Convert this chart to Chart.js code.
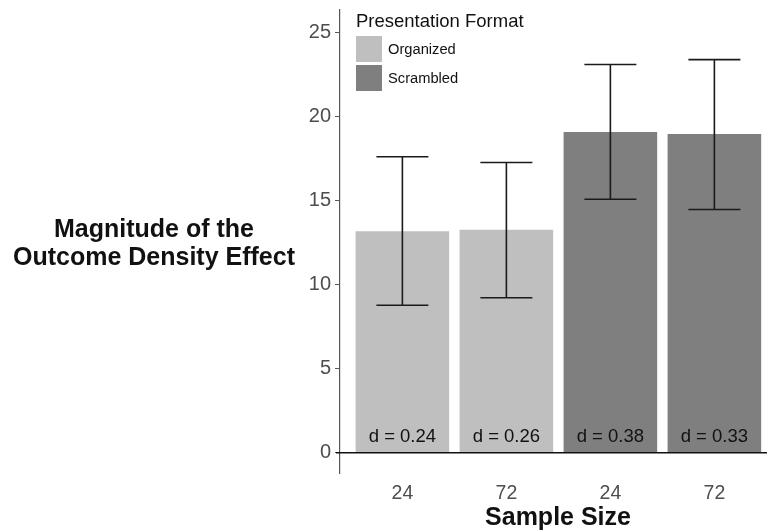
<!DOCTYPE html>
<html>
<head>
<meta charset="utf-8">
<script src="https://cdn.jsdelivr.net/npm/chart.js@4"></script>
<style>
  body { margin: 0; background: #fff; }
  #wrap { width: 767px; height: 532px; }
</style>
</head>
<body>
<div id="wrap"><canvas id="chart" width="767" height="532"></canvas></div>
<script>
// values
const sampleLabels = ['24', '72', '24', '72'];
const xPositions = [1, 2, 3, 4];
const organizedX = [1, 2];
const organizedMeans = [13.17, 13.25];
const scrambledX = [3, 4];
const scrambledMeans = [19.07, 18.94];
const errLow = [8.76, 9.21, 15.07, 14.46];
const errHigh = [17.59, 17.25, 23.08, 23.37];
const effectLabels = ['d = 0.24', 'd = 0.26', 'd = 0.38', 'd = 0.33'];
const yTicks = [0, 5, 10, 15, 20, 25];
const legendTitle = 'Presentation Format';
const legendLabels = ['Organized', 'Scrambled'];
const legendColors = ['#bfbfbf', '#7f7f7f'];

const FONT = '"Liberation Sans", Arial, Helvetica, sans-serif';

const toPoints = (xs, ys) => xs.map((x, i) => ({ x: x, y: ys[i] }));

// error bars, hline at zero, effect size text, titles and legend
const extras = {
    id: 'extras',
    afterDatasetsDraw(chart) {
        const ctx = chart.ctx;
        const x = chart.scales.x;
        const y = chart.scales.y;
        const area = chart.chartArea;

        ctx.save();
        // zero line
        ctx.strokeStyle = '#111';
        ctx.lineWidth = 1.5;
        ctx.beginPath();
        ctx.moveTo(area.left - 4, y.getPixelForValue(0));
        ctx.lineTo(area.right, y.getPixelForValue(0));
        ctx.stroke();

        // error bars
        ctx.strokeStyle = '#1a1a1a';
        ctx.lineWidth = 1.6;
        xPositions.forEach((p, i) => {
            const cx = x.getPixelForValue(p);
            const l = x.getPixelForValue(p - 0.25);
            const r = x.getPixelForValue(p + 0.25);
            const top = y.getPixelForValue(errHigh[i]);
            const bot = y.getPixelForValue(errLow[i]);
            ctx.beginPath();
            ctx.moveTo(cx, top); ctx.lineTo(cx, bot);
            ctx.moveTo(l, top); ctx.lineTo(r, top);
            ctx.moveTo(l, bot); ctx.lineTo(r, bot);
            ctx.stroke();
        });

        // effect sizes
        ctx.fillStyle = '#111';
        ctx.font = '18.5px ' + FONT;
        ctx.textAlign = 'center';
        ctx.textBaseline = 'middle';
        xPositions.forEach((p, i) => {
            ctx.fillText(effectLabels[i], x.getPixelForValue(p), 437);
        });

        // legend
        ctx.textAlign = 'left';
        ctx.fillStyle = '#111';
        ctx.font = '18.5px ' + FONT;
        ctx.fillText(legendTitle, 356, 22);
        ctx.font = '14.7px ' + FONT;
        legendLabels.forEach((lab, i) => {
            ctx.fillStyle = legendColors[i];
            ctx.fillRect(356, 36 + i * 29, 26, 26);
            ctx.fillStyle = '#111';
            ctx.fillText(lab, 388, 50 + i * 29);
        });

        // axis titles
        ctx.font = 'bold 25px ' + FONT;
        ctx.textAlign = 'center';
        ctx.fillText('Magnitude of the', 154, 230);
        ctx.fillText('Outcome Density Effect', 154, 258);
        ctx.fillText('Sample Size', 558, 518);
        ctx.restore();
    }
};

new Chart(document.getElementById('chart'), {
    type: 'bar',
    data: {
        datasets: [
            {
                label: legendLabels[0],
                data: toPoints(organizedX, organizedMeans),
                backgroundColor: legendColors[0]
            },
            {
                label: legendLabels[1],
                data: toPoints(scrambledX, scrambledMeans),
                backgroundColor: legendColors[1]
            }
        ]
    },
    options: {
        responsive: false,
        animation: false,
        grouped: false,
        barPercentage: 0.9,
        categoryPercentage: 1,
        borderWidth: 0,
        layout: { padding: { top: 10, right: 0, left: 0, bottom: 0 } },
        plugins: {
            legend: { display: false },
            tooltip: { enabled: false }
        },
        scales: {
            x: {
                type: 'linear',
                offset: false,
                min: 0.4,
                max: 4.506,
                afterBuildTicks: (s) => { s.ticks = xPositions.map(v => ({ value: v })); },
                afterFit: (s) => { s.height = 59; s.paddingLeft = 0; s.paddingRight = 0; },
                grid: { display: false, drawTicks: false },
                border: { display: false },
                ticks: {
                    padding: 9,
                    color: '#4d4d4d',
                    font: { size: 19.5, family: FONT },
                    callback: (v) => sampleLabels[xPositions.indexOf(v)] || ''
                }
            },
            y: {
                min: -1.21,
                max: 26.32,
                afterBuildTicks: (s) => { s.ticks = yTicks.map(v => ({ value: v })); },
                afterFit: (s) => { s.width = 340; s.paddingTop = 0; s.paddingBottom = 0; },
                grid: { drawOnChartArea: false, tickLength: 5, tickColor: '#555' },
                border: { display: true, color: '#555', width: 1.2 },
                ticks: {
                    padding: 4,
                    color: '#4d4d4d',
                    font: { size: 20, family: FONT }
                }
            }
        }
    },
    plugins: [extras]
});
</script>
</body>
</html>
